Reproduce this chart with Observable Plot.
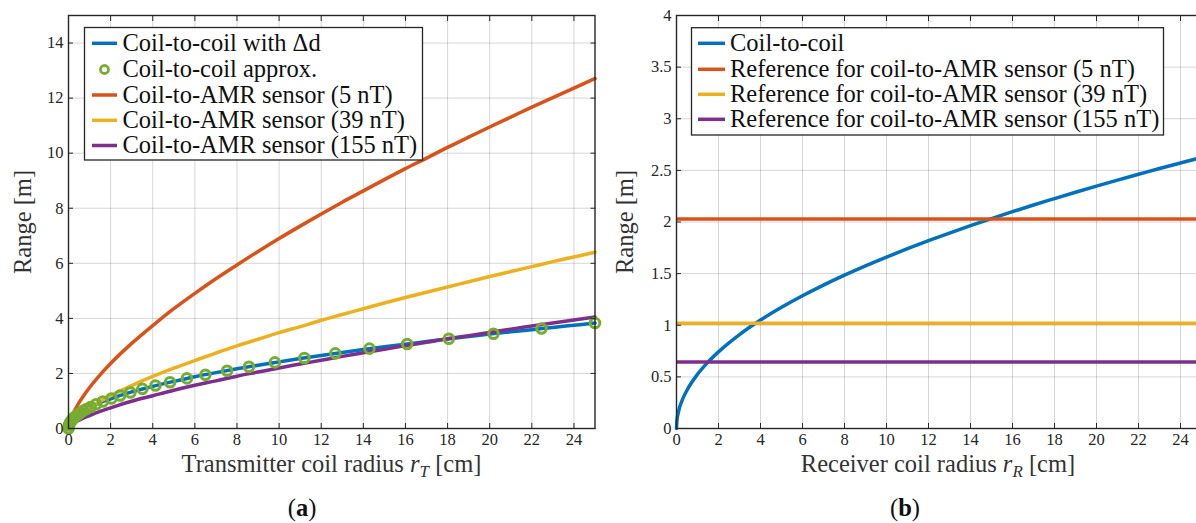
<!DOCTYPE html>
<html><head><meta charset="utf-8">
<script src="https://cdn.jsdelivr.net/npm/d3@7"></script>
<script src="https://cdn.jsdelivr.net/npm/@observablehq/plot@0.6"></script>
<style>
html,body{margin:0;padding:0;background:#fff;width:1196px;height:523px;overflow:hidden;}
#wrap{position:relative;width:1196px;height:523px;overflow:hidden;}
.panel{position:absolute;top:0;}
.cap{position:absolute;top:494px;font-family:"Liberation Serif",serif;font-size:24.5px;color:#111;transform:translateX(-50%);white-space:nowrap;}
</style></head><body><div id="wrap"></div>
<script>
// ---------- Panel (a) data ----------
const xT = [0, 0.1, 0.25, 0.5, 0.75, 1, 1.5, 2, 3, 4, 5, 6, 7, 8, 9, 10, 11, 12, 13, 14, 15, 16, 17, 18, 19, 20, 21, 22, 23, 24, 25];
const coilDelta = [0, 0.24, 0.38, 0.54, 0.66, 0.77, 0.94, 1.08, 1.33, 1.53, 1.71, 1.88, 2.03, 2.17, 2.30, 2.42, 2.54, 2.65, 2.76, 2.87, 2.97, 3.06, 3.16, 3.25, 3.34, 3.43, 3.51, 3.59, 3.67, 3.75, 3.83];
const amr5 = [0, 0.32, 0.59, 0.94, 1.23, 1.49, 1.95, 2.36, 3.09, 3.74, 4.35, 4.91, 5.44, 5.94, 6.43, 6.90, 7.35, 7.79, 8.22, 8.63, 9.04, 9.44, 9.82, 10.21, 10.58, 10.95, 11.31, 11.67, 12.02, 12.36, 12.71];
const amr39 = [0, 0.16, 0.30, 0.47, 0.62, 0.75, 0.98, 1.19, 1.56, 1.89, 2.19, 2.47, 2.74, 3.00, 3.24, 3.48, 3.70, 3.93, 4.14, 4.35, 4.56, 4.76, 4.95, 5.14, 5.33, 5.52, 5.70, 5.88, 6.06, 6.23, 6.40];
const amr155 = [0, 0.10, 0.19, 0.30, 0.39, 0.47, 0.62, 0.75, 0.99, 1.19, 1.39, 1.57, 1.73, 1.90, 2.05, 2.20, 2.34, 2.48, 2.62, 2.75, 2.88, 3.01, 3.13, 3.26, 3.37, 3.49, 3.61, 3.72, 3.83, 3.94, 4.05];
const approxX = [0, 0.02, 0.05, 0.09, 0.14, 0.2, 0.27, 0.35, 0.45, 0.56, 0.7, 0.85, 1.05, 1.31, 1.63, 2.04, 2.45, 2.94, 3.51, 4.13, 4.82, 5.62, 6.5, 7.53, 8.57, 9.8, 11.2, 12.67, 14.29, 16.08, 18.06, 20.18, 22.46, 25];
const approxY = [0, 0.11, 0.17, 0.23, 0.29, 0.34, 0.40, 0.45, 0.51, 0.57, 0.64, 0.71, 0.78, 0.88, 0.98, 1.09, 1.20, 1.31, 1.44, 1.56, 1.68, 1.82, 1.95, 2.10, 2.24, 2.40, 2.56, 2.73, 2.90, 3.07, 3.26, 3.44, 3.63, 3.83];
const legendA = ["Coil-to-coil with Δd", "Coil-to-coil approx.", "Coil-to-AMR sensor (5 nT)", "Coil-to-AMR sensor (39 nT)", "Coil-to-AMR sensor (155 nT)"];
const xTicksA = [0, 2, 4, 6, 8, 10, 12, 14, 16, 18, 20, 22, 24];
const yTicksA = [0, 2, 4, 6, 8, 10, 12, 14];

// ---------- Panel (b) data ----------
const xR = [0, 0.02, 0.1, 0.25, 0.5, 1, 1.5, 2, 3, 4, 5, 6, 7, 8, 9, 10, 11, 12, 13, 14, 15, 16, 17, 18, 19, 20, 21, 22, 23, 24, 25];
const coil = [0, 0.074, 0.166, 0.263, 0.371, 0.525, 0.643, 0.742, 0.909, 1.05, 1.174, 1.286, 1.389, 1.485, 1.575, 1.66, 1.741, 1.819, 1.893, 1.964, 2.033, 2.1, 2.165, 2.227, 2.288, 2.348, 2.406, 2.462, 2.518, 2.572, 2.625];
const refLevels = [2.03, 1.02, 0.645];
const legendB = ["Coil-to-coil", "Reference for coil-to-AMR sensor (5 nT)", "Reference for coil-to-AMR sensor (39 nT)", "Reference for coil-to-AMR sensor (155 nT)"];
const xTicksB = [0, 2, 4, 6, 8, 10, 12, 14, 16, 18, 20, 22, 24];
const yTicksB = [0, 0.5, 1, 1.5, 2, 2.5, 3, 3.5, 4];

const C = {blue: "#0072BD", orange: "#D95319", yellow: "#EDB120", purple: "#7E2F8E", green: "#77AC30"};
const FONT = "Liberation Serif";
const INK = "#262626";
const TICKFS = 16.5;
const LW = 3.5;

function axesMarks(xt, yt) {
  return [
    Plot.gridX(xt, {stroke: "#000", strokeOpacity: 0.16}),
    Plot.gridY(yt, {stroke: "#000", strokeOpacity: 0.16})
  ];
}
function frameMarks(xt, yt) {
  const txt = {fontSize: TICKFS, fontFamily: FONT};
  return [
    Plot.frame({stroke: INK, strokeWidth: 1.4}),
    Plot.axisX(xt, {anchor: "bottom", tickSize: -5, tickPadding: 10, label: null, stroke: INK, fill: INK, ...txt}),
    Plot.axisX(xt, {anchor: "top", tickSize: -5, tickFormat: () => "", label: null, stroke: INK}),
    Plot.axisY(yt, {anchor: "left", tickSize: -5, tickPadding: 10, label: null, tickFormat: d => String(d), stroke: INK, fill: INK, ...txt}),
    Plot.axisY(yt, {anchor: "right", tickSize: -5, tickFormat: () => "", label: null, stroke: INK})
  ];
}
const style = {fontFamily: FONT, fontSize: TICKFS + "px", color: INK, background: "transparent", overflow: "visible"};

// ---------- Panel (a) ----------
const rowsA = xT.map((x, i) => ({x, blue: coilDelta[i], o: amr5[i], y: amr39[i], p: amr155[i]}));
const ptsA = approxX.map((x, i) => ({x, y: approxY[i]}));
const plotA = Plot.plot({
  width: 600, height: 480,
  marginLeft: 68, marginRight: 5.5, marginTop: 15, marginBottom: 52,
  x: {domain: [0, 25]}, y: {domain: [0, 15]},
  style,
  marks: [
    ...axesMarks(xTicksA, yTicksA),
    Plot.line(rowsA, {x: "x", y: "blue", stroke: C.blue, strokeWidth: LW, curve: "monotone-x"}),
    Plot.line(rowsA, {x: "x", y: "o", stroke: C.orange, strokeWidth: LW, curve: "monotone-x"}),
    Plot.line(rowsA, {x: "x", y: "y", stroke: C.yellow, strokeWidth: LW, curve: "monotone-x"}),
    Plot.line(rowsA, {x: "x", y: "p", stroke: C.purple, strokeWidth: LW, curve: "monotone-x"}),
    Plot.dot(ptsA, {x: "x", y: "y", r: 4.8, stroke: C.green, strokeWidth: 3, fill: "none"}),
    ...frameMarks(xTicksA, yTicksA)
  ]
});

// ---------- Panel (b) ----------
const rowsB = xR.map((x, i) => ({x, c: coil[i]}));
const refRows = refLevels.map((v, i) => ({v, k: i}));
const refColors = [C.orange, C.yellow, C.purple];
const plotB = Plot.plot({
  width: 611, height: 480,
  marginLeft: 76, marginRight: 10, marginTop: 15, marginBottom: 52,
  x: {domain: [0, 25]}, y: {domain: [0, 4]},
  style,
  marks: [
    ...axesMarks(xTicksB, yTicksB),
    Plot.line(rowsB, {x: "x", y: "c", stroke: C.blue, strokeWidth: LW, curve: "monotone-x"}),
    Plot.ruleY(refRows, {y: "v", stroke: (d) => refColors[d.k], strokeWidth: LW}),
    ...frameMarks(xTicksB, yTicksB)
  ]
});

// ---------- annotations (legends, axis labels) ----------
function addLegend(svg, box, rows, items, colors, swX, textX, markerIdx) {
  const g = d3.select(svg).append("g").attr("font-family", FONT).attr("font-size", "24.5px")
    .attr("text-anchor", "start");
  g.append("rect").attr("x", box[0]).attr("y", box[1]).attr("width", box[2] - box[0]).attr("height", box[3] - box[1])
    .attr("fill", "#fff").attr("stroke", INK).attr("stroke-width", 1.3);
  items.forEach((t, i) => {
    const cy = rows[i];
    if (i === markerIdx) {
      g.append("circle").attr("cx", (swX[0] + swX[1]) / 2).attr("cy", cy).attr("r", 4).attr("fill", "none")
        .attr("stroke", colors[i]).attr("stroke-width", 2.8);
    } else {
      g.append("line").attr("x1", swX[0]).attr("x2", swX[1]).attr("y1", cy).attr("y2", cy)
        .attr("stroke", colors[i]).attr("stroke-width", LW);
    }
    g.append("text").attr("x", textX).attr("y", cy + 7.6).attr("text-anchor", "start").attr("fill", "#111").text(t);
  });
}
function addAxisLabels(svg, xcx, parts, ycx) {
  const s = d3.select(svg);
  const t = s.append("text").attr("x", xcx).attr("y", 472).attr("text-anchor", "middle")
    .attr("font-family", FONT).attr("font-size", "24.5px").attr("fill", "#333");
  t.append("tspan").text(parts[0]);
  t.append("tspan").attr("font-style", "italic").text("r");
  t.append("tspan").attr("font-style", "italic").attr("font-size", "17px").attr("dy", 5).text(parts[1]);
  t.append("tspan").attr("dy", -5).text(" [cm]");
  s.append("text").attr("transform", `translate(${ycx},222) rotate(-90)`).attr("text-anchor", "middle")
    .attr("font-family", FONT).attr("font-size", "24.5px").attr("fill", "#333").text("Range [m]");
}

addLegend(plotA, [84.5, 27.5, 422.5, 160], [43.3, 69.5, 95, 120.3, 145.5], legendA,
  [C.blue, C.green, C.orange, C.yellow, C.purple], [92, 117], 122.5, 1);
addAxisLabels(plotA, 331.5, ["Transmitter coil radius ", "T"], 31);

addLegend(plotB, [91.5, 27.7, 563.5, 135], [43.3, 69.3, 94.3, 119.3], legendB,
  [C.blue, C.orange, C.yellow, C.purple], [98, 125], 130, -1);
addAxisLabels(plotB, 338, ["Receiver coil radius ", "R"], 33);

const wrap = document.getElementById("wrap");
plotA.classList.add("panel"); plotA.style.left = "0px";
plotB.classList.add("panel"); plotB.style.left = "600px";
wrap.appendChild(plotA); wrap.appendChild(plotB);

function cap(letter, cx) {
  const d = document.createElement("div");
  d.className = "cap"; d.style.left = cx + "px";
  d.innerHTML = "(<b>" + letter + "</b>)";
  wrap.appendChild(d);
}
cap("a", 302); cap("b", 905);
</script>
</body></html>
